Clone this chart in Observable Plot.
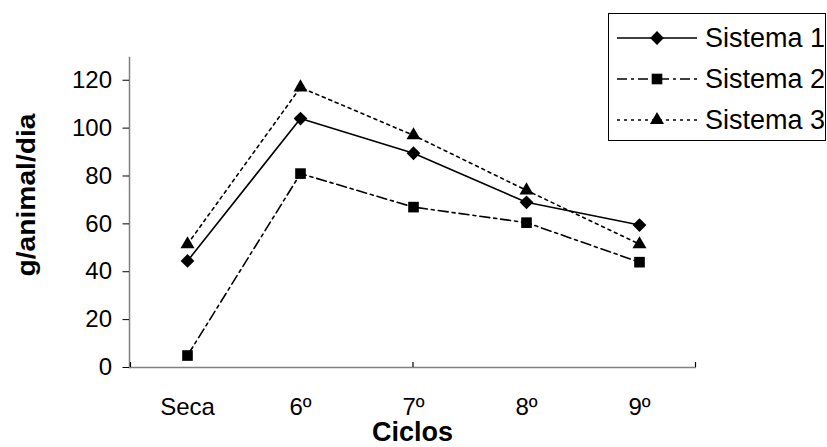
<!DOCTYPE html>
<html><head><meta charset="utf-8">
<script src="https://cdn.jsdelivr.net/npm/d3@7"></script>
<script src="https://cdn.jsdelivr.net/npm/@observablehq/plot@0.6"></script>
<style>
body{margin:0;background:#fff;font-family:"Liberation Sans",Arial,sans-serif;}
#wrap{position:relative;width:827px;height:447px;}
#legend{position:absolute;left:608px;top:13px;width:218px;height:128px;border:1.5px solid #000;background:#fff;box-sizing:border-box;}
#titles{position:absolute;left:0;top:0;pointer-events:none;}
</style></head><body><div id="wrap"></div>
<script>
const ciclos = ["Seca", "6º", "7º", "8º", "9º"];
const seriesNames = ["Sistema 1", "Sistema 2", "Sistema 3"];
const sistema1 = [44.5, 104, 89.5, 69, 59.5];
const sistema2 = [5, 81, 67, 60.5, 44];
const sistema3 = [51.5, 117, 97, 74, 51.5];
const yTicks = [0, 20, 40, 60, 80, 100, 120];
const yTitle = "g/animal/dia";
const xTitle = "Ciclos";

const values = [sistema1, sistema2, sistema3];
const styles = [
  {dash: null, symbol: "diamond2", d3sym: d3.symbolDiamond2, r: 6.2},
  {dash: "10,4,3,4", symbol: "square", d3sym: d3.symbolSquare, r: 6},
  {dash: "3,4", symbol: "triangle", d3sym: d3.symbolTriangle, r: 5.2}
];
const data = seriesNames.map((s, k) => ciclos.map((c, i) => ({serie: s, ciclo: c, v: values[k][i]})));

const marks = [
  Plot.frame({anchor: "left", stroke: "#808080", strokeWidth: 1.5}),
  Plot.ruleY([0], {stroke: "#808080", strokeWidth: 1.5}),
  Plot.axisY(yTicks, {tickSize: 6.5, tickPadding: 11, label: null, fontSize: 24}),
  Plot.axisX({tickSize: 0, tickPadding: 30, label: null, fontSize: 24})
];
data.forEach((d, k) => {
  marks.push(Plot.line(d, {x: "ciclo", y: "v", stroke: "#000", strokeWidth: 1.6, strokeDasharray: styles[k].dash}));
  marks.push(Plot.dot(d, {x: "ciclo", y: "v", symbol: () => styles[k].symbol, fill: "#000", stroke: "none", r: styles[k].r}));
});

const chart = Plot.plot({
  width: 827, height: 447,
  marginLeft: 129, marginRight: 131, marginTop: 57, marginBottom: 80,
  style: {fontFamily: "'Liberation Sans', Arial, sans-serif", fontSize: "24px", color: "#000", background: "#fff"},
  x: {type: "point", domain: ciclos, padding: 0.5, label: null},
  y: {domain: [0, 129.5], label: null},
  symbol: {domain: ["diamond2", "square", "triangle"], range: ["diamond2", "square", "triangle"]},
  marks
});
document.getElementById("wrap").appendChild(chart);

// category-axis tick marks (inside, Excel style) from the x scale
const xs = chart.scale("x"), ys = chart.scale("y");
const step = xs.apply(ciclos[1]) - xs.apply(ciclos[0]);
const y0 = ys.apply(0);
const tickXs = [xs.apply(ciclos[0]) - step / 2, xs.apply(ciclos[2]), xs.apply(ciclos[ciclos.length - 1]) + step / 2];
const g = d3.select(chart).append("g").attr("stroke", "#000").attr("stroke-width", 1.2);
tickXs.forEach(t => g.append("line").attr("x1", t).attr("x2", t).attr("y1", y0 - 5).attr("y2", y0));

// axis titles
const ts = d3.select("#wrap").append("svg").attr("id", "titles").attr("width", 827).attr("height", 447)
  .attr("font-family", "'Liberation Sans', Arial, sans-serif").attr("font-weight", "bold");
ts.append("text").attr("transform", "translate(35,195) rotate(-90)").attr("text-anchor", "middle")
  .attr("font-size", 25).attr("textLength", 163).attr("lengthAdjust", "spacingAndGlyphs").text(yTitle);
ts.append("text").attr("x", (xs.range[0] + xs.range[1]) / 2).attr("y", 441).attr("text-anchor", "middle")
  .attr("font-size", 27).text(xTitle);

// legend
const leg = document.createElement("div");
leg.id = "legend";
document.getElementById("wrap").appendChild(leg);
const ls = d3.select(leg).append("svg").attr("width", 215).attr("height", 125);
seriesNames.forEach((s, k) => {
  const cy = 24 + k * 41;
  ls.append("line").attr("x1", 8).attr("x2", 88).attr("y1", cy).attr("y2", cy)
    .attr("stroke", "#000").attr("stroke-width", 1.6).attr("stroke-dasharray", styles[k].dash);
  ls.append("path").attr("transform", `translate(48,${cy})`)
    .attr("d", d3.symbol(styles[k].d3sym, Math.PI * styles[k].r ** 2)()).attr("fill", "#000");
  ls.append("text").attr("x", 96).attr("y", cy).attr("dy", "0.35em")
    .attr("font-size", 27).attr("font-family", "'Liberation Sans', Arial, sans-serif").text(s);
});
</script></body></html>
